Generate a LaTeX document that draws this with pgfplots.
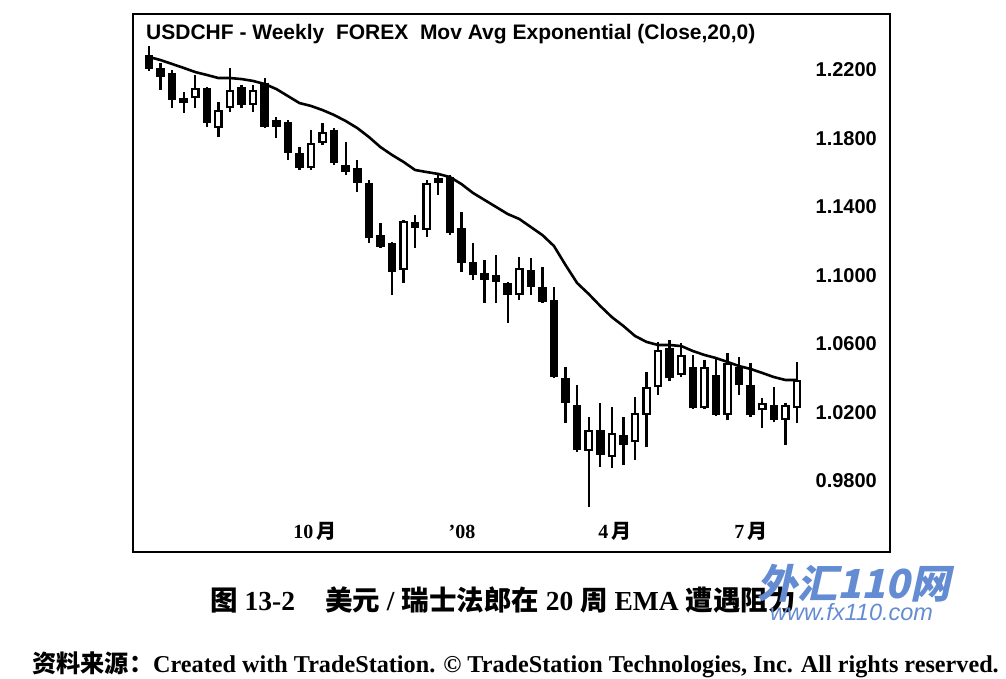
\documentclass[border=0pt]{standalone}
\usepackage{fontspec}
\usepackage{pgfplots}
\pgfplotsset{compat=1.18}
\usepackage{pgfplotstable}
\setmainfont{Liberation Serif}
\newfontfamily\arial{Liberation Sans}
\newfontfamily\cjk{Noto Sans CJK SC}
\newfontfamily\cjkslant{Noto Sans CJK SC}[FakeSlant=0.22]
\definecolor{wm}{RGB}{100,140,210}

\pgfplotstableread{
i o h l c e
1 1.2288 1.2340 1.2194 1.2206 1.2276
2 1.2212 1.2241 1.2083 1.2159 1.2258
3 1.2182 1.2200 1.1978 1.2025 1.2235
4 1.2036 1.2072 1.1949 1.2007 1.2212
5 1.2036 1.2171 1.1978 1.2095 1.2188
6 1.2095 1.2101 1.1867 1.1890 1.2171
7 1.1861 1.2013 1.1809 1.1966 1.2153
8 1.1978 1.2212 1.1955 1.2083 1.2153
9 1.2101 1.2112 1.1978 1.1996 1.2147
10 1.1996 1.2112 1.1955 1.2083 1.2136
11 1.2124 1.2153 1.1861 1.1867 1.2118
12 1.1908 1.1926 1.1803 1.1867 1.2089
13 1.1896 1.1908 1.1674 1.1715 1.2048
14 1.1715 1.1750 1.1616 1.1628 1.2007
15 1.1628 1.1850 1.1616 1.1774 1.1990
16 1.1774 1.1890 1.1762 1.1838 1.1966
17 1.1850 1.1861 1.1645 1.1657 1.1937
18 1.1645 1.1780 1.1587 1.1604 1.1902
19 1.1628 1.1674 1.1488 1.1540 1.1861
20 1.1540 1.1558 1.1190 1.1219 1.1809
21 1.1236 1.1306 1.1160 1.1166 1.1750
22 1.1190 1.1196 1.0886 1.1020 1.1704
23 1.1032 1.1324 1.0956 1.1318 1.1663
24 1.1312 1.1353 1.1160 1.1277 1.1616
25 1.1266 1.1558 1.1225 1.1540 1.1604
26 1.1569 1.1587 1.1470 1.1540 1.1593
27 1.1575 1.1587 1.1236 1.1248 1.1575
28 1.1277 1.1371 1.1020 1.1073 1.1534
29 1.1079 1.1190 1.0974 1.1003 1.1482
30 1.1014 1.1090 1.0839 1.0974 1.1441
31 1.1003 1.1120 1.0839 1.0962 1.1400
32 1.0956 1.0962 1.0722 1.0886 1.1359
33 1.0886 1.1108 1.0857 1.1044 1.1330
34 1.1032 1.1102 1.0886 1.0933 1.1283
35 1.0933 1.1050 1.0839 1.0845 1.1236
36 1.0857 1.0933 1.0401 1.0407 1.1172
37 1.0401 1.0466 1.0138 1.0255 1.1061
38 1.0244 1.0360 0.9969 0.9981 1.0956
39 0.9975 1.0174 0.9648 1.0098 1.0892
40 1.0098 1.0255 0.9882 0.9952 1.0822
41 0.9940 1.0232 0.9876 1.0080 1.0757
42 1.0068 1.0174 0.9893 1.0010 1.0705
43 1.0028 1.0290 0.9922 1.0197 1.0647
44 1.0185 1.0436 0.9998 1.0349 1.0612
45 1.0349 1.0612 1.0302 1.0565 1.0594
46 1.0577 1.0623 1.0384 1.0401 1.0594
47 1.0419 1.0606 1.0407 1.0536 1.0588
48 1.0466 1.0536 1.0220 1.0226 1.0559
49 1.0226 1.0506 1.0220 1.0466 1.0536
50 1.0419 1.0518 1.0179 1.0185 1.0518
51 1.0185 1.0547 1.0156 1.0489 1.0495
52 1.0466 1.0524 1.0302 1.0360 1.0471
53 1.0360 1.0489 1.0174 1.0185 1.0454
54 1.0214 1.0284 1.0109 1.0255 1.0431
55 1.0244 1.0349 1.0144 1.0156 1.0407
56 1.0156 1.0255 1.0010 1.0244 1.0390
57 1.0226 1.0495 1.0138 1.0390 1.0390
}\data

\begin{document}
\begin{tikzpicture}
\useasboundingbox (0,0) rectangle (1006pt,678pt);
\begin{axis}[
  at={(133pt,126pt)}, anchor=south west,
  scale only axis, width=757pt, height=538pt,
  xmin=-0.3827, xmax=65.04, ymin=0.93854, ymax=1.2527,
  axis line style={line width=1.8pt},
  major tick length=0pt, tick style={draw=none},
  xtick={15.35,28.05,41.27,53.03},
  xticklabels={{10\,{\cjk 月}},{'08},{4\,{\cjk 月}},{7\,{\cjk 月}}},
  xticklabel style={font=\fontsize{20}{20}\selectfont\bfseries, anchor=base, yshift=14pt},
  ytick={0.98,1.02,1.06,1.10,1.14,1.18,1.22},
  yticklabel pos=right,
  yticklabel style={font=\arial\fontsize{20}{20}\selectfont\bfseries, anchor=east, inner sep=0pt, xshift=-13pt,
    /pgf/number format/.cd, fixed, fixed zerofill, precision=4, assume math mode=true},
  clip=false,
]
% wicks
\addplot[draw=none, mark=none,
  error bars/.cd, y dir=plus, y explicit, error mark=none,
  error bar style={draw=black, solid, line width=2.4pt}]
  table[x=i, y=l, y error expr=\thisrow{h}-\thisrow{l}] {\data};
% bodies
\addplot[draw=none, mark=none,
  error bars/.cd, y dir=plus, y explicit, error mark=none,
  error bar style={draw=black, solid, line width=8.5pt}]
  table[x=i, y expr={min(\thisrow{o},\thisrow{c})}, y error expr={abs(\thisrow{o}-\thisrow{c})}] {\data};
% hollow interiors of up candles
\addplot[draw=none, mark=none,
  restrict expr to domain={\thisrow{c}-\thisrow{o}}{0.003:1},
  error bars/.cd, y dir=plus, y explicit, error mark=none,
  error bar style={draw=white, solid, line width=4pt}]
  table[x=i, y expr={\thisrow{o}+0.0013}, y error expr={\thisrow{c}-\thisrow{o}-0.0026}] {\data};
% EMA 20
\addplot[black, line width=2.6pt, mark=none] table[x=i, y=e] {\data};
\end{axis}
\node[anchor=base west, inner sep=0pt, font=\arial\fontsize{21}{21}\selectfont\bfseries] at (146pt,638pt)
  {USDCHF - Weekly\ \ FOREX\ \ Mov Avg Exponential (Close,20,0)};
\node[anchor=base west, inner sep=0pt, font=\fontsize{27.5}{27.5}\selectfont\bfseries] at (210pt,68pt)
  {{\cjk 图}\hspace{7pt}13-2\hspace{30pt}{\cjk 美元} / {\cjk 瑞士法郎在} 20 {\cjk 周} EMA {\cjk 遭遇阻力}};
\node[anchor=base west, inner sep=0pt, font=\fontsize{24.2}{24.2}\selectfont\bfseries] at (32pt,6pt)
  {{\cjk 资料来源：}Created with TradeStation. © TradeStation Technologies, Inc. All rights reserved.};
\node[anchor=base west, inner sep=0pt, text=wm, font=\cjkslant\fontsize{40}{40}\selectfont\bfseries] at (757pt,80pt)
  {外汇110网};
\node[anchor=base west, inner sep=0pt, text=wm, font=\arial\fontsize{23.5}{23.5}\selectfont\itshape] at (770pt,58pt)
  {www.fx110.com};
\end{tikzpicture}
\end{document}
